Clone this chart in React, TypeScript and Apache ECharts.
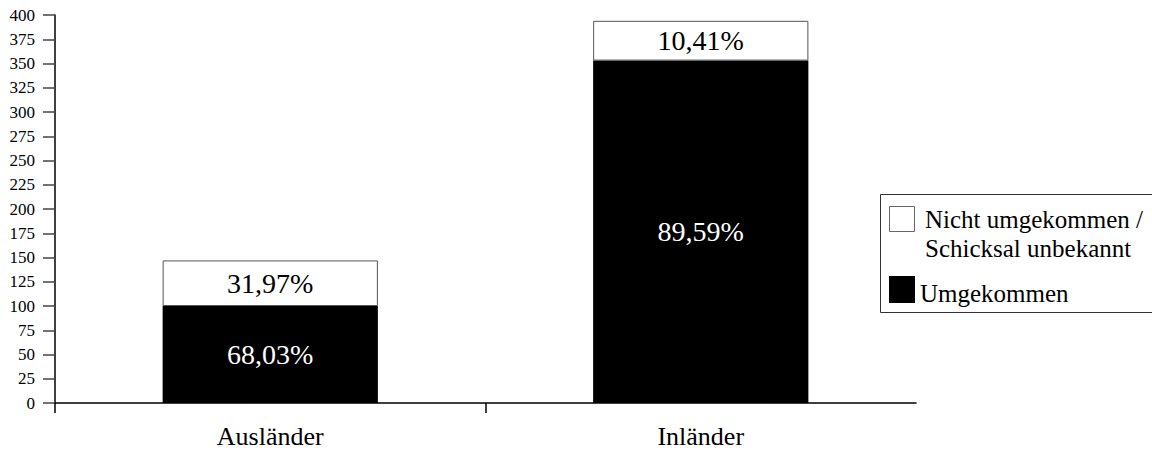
import React, { useEffect, useRef } from "react";
import * as echarts from "echarts";

const categories = ["Ausländer", "Inländer"];
const umgekommen = [100, 353];
const nichtUmgekommen = [47, 41];
const seriesNames = ["Umgekommen", "Nicht umgekommen / Schicksal unbekannt"];
const legendLines = ["Nicht umgekommen /\nSchicksal unbekannt", "Umgekommen"];
const yMin = 0;
const yMax = 400;
const yInterval = 25;

const FONT = "Liberation Serif";

function pct(v: number, i: number) {
  const total = umgekommen[i] + nichtUmgekommen[i];
  return ((v / total) * 100).toFixed(2).replace(".", ",") + "%";
}

export default function App() {
  const ref = useRef<HTMLDivElement>(null);
  useEffect(() => {
    if (!ref.current) return;
    const chart = echarts.init(ref.current, null, { renderer: "svg" });
    chart.setOption({
      animation: false,
      backgroundColor: "#ffffff",
      textStyle: { fontFamily: FONT },
      grid: { left: 55, right: 236, top: 15, bottom: 47, containLabel: false },
      xAxis: [
        {
          type: "category",
          data: categories,
          axisLine: { show: true, lineStyle: { color: "#000", width: 1.5 } },
          axisTick: { show: false },
          axisLabel: { color: "#000", fontSize: 26, fontFamily: FONT, margin: 20 },
          splitLine: { show: false },
        },
        {
          type: "value",
          position: "bottom",
          offset: 0,
          min: 0,
          max: categories.length,
          interval: 1,
          axisLine: { show: false },
          axisLabel: { show: false },
          splitLine: { show: false },
          axisTick: {
            show: true,
            length: 10,
            customValues: categories.map((_, i) => i),
            lineStyle: { color: "#000", width: 1.5 },
          },
        },
      ],
      yAxis: {
        type: "value",
        min: yMin,
        max: yMax,
        interval: yInterval,
        axisLine: { show: true, lineStyle: { color: "#000", width: 1.5 } },
        axisTick: { show: true, length: 12, lineStyle: { color: "#444", width: 1.5 } },
        axisLabel: { color: "#000", fontSize: 17, fontFamily: FONT, margin: 20 },
        splitLine: { show: false },
      },
      series: [
        {
          name: seriesNames[0],
          type: "bar",
          stack: "total",
          xAxisIndex: 0,
          barWidth: "50%",
          data: umgekommen,
          itemStyle: { color: "#000" },
          label: {
            show: true,
            position: "inside",
            color: "#fff",
            fontSize: 28,
            fontFamily: FONT,
            formatter: (p: any) => pct(p.value, p.dataIndex),
          },
        },
        {
          name: seriesNames[1],
          type: "bar",
          stack: "total",
          xAxisIndex: 0,
          barWidth: "50%",
          data: nichtUmgekommen,
          itemStyle: { color: "#fff", borderColor: "#555", borderWidth: 1 },
          label: {
            show: true,
            position: "inside",
            color: "#000",
            fontSize: 28,
            fontFamily: FONT,
            formatter: (p: any) => pct(p.value, p.dataIndex),
          },
        },
      ],
      graphic: [
        {
          type: "group",
          children: [
            {
              type: "rect",
              shape: { x: 880.5, y: 194.5, width: 300, height: 118 },
              style: { fill: "#fff", stroke: "#333", lineWidth: 1 },
            },
            {
              type: "rect",
              shape: { x: 889.5, y: 206.5, width: 25, height: 25 },
              style: { fill: "#fff", stroke: "#666", lineWidth: 1 },
            },
            {
              type: "text",
              x: 925,
              y: 234,
              style: {
                text: legendLines[0],
                fill: "#000",
                fontSize: 25,
                fontFamily: FONT,
                lineHeight: 28.5,
                verticalAlign: "middle",
                align: "left",
              },
            },
            {
              type: "rect",
              shape: { x: 889, y: 276, width: 26, height: 27 },
              style: { fill: "#000" },
            },
            {
              type: "text",
              x: 920,
              y: 293,
              style: {
                text: legendLines[1],
                fill: "#000",
                fontSize: 25,
                fontFamily: FONT,
                verticalAlign: "middle",
                align: "left",
              },
            },
          ],
        },
      ],
    });
    return () => chart.dispose();
  }, []);
  return (
    <div
      ref={ref}
      style={{ position: "fixed", left: 0, top: 0, width: 1152, height: 450, background: "#fff" }}
    />
  );
}
